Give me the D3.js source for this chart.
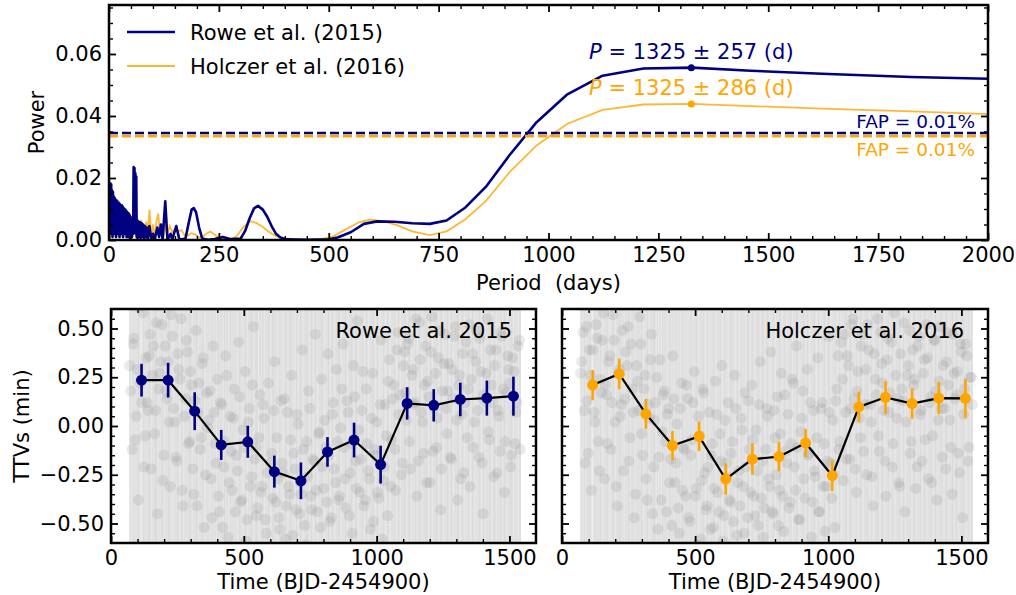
<!DOCTYPE html>
<html>
<head>
<meta charset="utf-8">
<script src="https://cdn.jsdelivr.net/npm/d3@7"></script>
<style>
  body { margin: 0; background: #fff; }
  svg { font-family: "DejaVu Sans", sans-serif; }
</style>
</head>
<body>
<svg id="fig" width="1016" height="595"></svg>
<script>
// ---- periodogram (period in days, power) ----
const roweCurve = [
  [1,0.0175],[2,0.004],[3,0.0183],[4,0.002],[5,0.018],[6,0.003],[7,0.016],[8,0.001],[9,0.0155],[10,0.004],
  [11,0.014],[12,0.002],[13,0.0135],[14,0.005],[15,0.013],[16,0.001],[17,0.0128],[18,0.004],[19,0.0125],[20,0.002],
  [21,0.012],[22,0.006],[23,0.0118],[24,0.001],[25,0.0115],[26,0.004],[27,0.011],[28,0.002],[29,0.0112],[30,0.005],
  [31,0.0108],[32,0.001],[33,0.0104],[34,0.003],[35,0.01],[36,0.002],[37,0.0098],[38,0.004],[39,0.0095],[40,0.001],
  [41,0.009],[42,0.003],[43,0.0088],[44,0.001],[45,0.0085],[46,0.002],[47,0.008],[48,0.0005],[49,0.0075],[50,0.002],
  [51,0.0065],[52,0.001],[54,0.006],[55,0.002],[56,0.0235],[57,0.004],[58,0.0232],[59,0.003],[60,0.0215],[61,0.002],
  [62,0.0205],[63,0.001],[64,0.0065],[65,0.0005],[66,0.006],[68,0.001],[70,0.0058],[72,0.0005],[74,0.0055],[76,0.001],
  [78,0.005],[80,0.0005],[82,0.0045],[84,0.001],[86,0.004],[88,0.0002],[92,0.0045],[96,0.0002],[100,0.002],[104,0.0002],
  [110,0.004],[114,0.001],[118,0.005],[122,0.0002],[128,0.0125],[133,0.0002],[140,0.002],[144,0.0002],[153,0.0045],[160,0.0002],
  [168,0.0003],[174,0.0005],[182,0.006],[188,0.0098],[193,0.0103],[198,0.009],[205,0.004],[212,0.0005],[225,0.0001],[240,0.0003],
  [259,0.001],[275,0.0003],[300,0.0005],[310,0.003],[320,0.007],[330,0.0102],[339,0.011],[350,0.0098],[360,0.0075],[370,0.0045],
  [380,0.002],[390,0.0008],[403,0.0002],[450,0.0001],[500,0.0002],[520,0.0008],[550,0.0025],[580,0.0052],[610,0.006],[650,0.0059],
  [690,0.0054],[730,0.0052],[768,0.0063],[811,0.0105],[859,0.0174],[912,0.0275],[973,0.038],[1043,0.047],[1123,0.053],[1216,0.0553],
  [1327,0.0556],[1460,0.0546],[1622,0.0536],[1825,0.0526],[2085,0.0517]
];
const holczerCurve = [
  [1,0.008],[2.5,0.001],[3.5,0.011],[4.5,0.002],[5.5,0.01],[6.5,0.001],[7.5,0.012],[8.5,0.003],[9.5,0.011],[10.5,0.001],
  [11.5,0.0125],[12.5,0.002],[13.5,0.013],[14.5,0.004],[15.5,0.0134],[16.5,0.001],[17.5,0.012],[18.5,0.003],[19.5,0.0125],[20.5,0.001],
  [21.5,0.011],[22.5,0.002],[23.5,0.0126],[24.5,0.003],[25.5,0.0105],[26.5,0.001],[27.5,0.01],[28.5,0.002],[29.5,0.0095],[31,0.001],
  [32.5,0.009],[34,0.002],[35.5,0.0095],[37,0.001],[38.5,0.0085],[40,0.002],[41.5,0.009],[43,0.001],[44.5,0.008],[46,0.002],
  [47.5,0.0085],[49,0.001],[50.5,0.0075],[52,0.002],[53.5,0.007],[55,0.001],[56.5,0.0065],[58,0.002],[60,0.007],[62,0.001],
  [64,0.0065],[66,0.002],[68,0.006],[70,0.0005],[73,0.0065],[76,0.001],[79,0.005],[82,0.001],[85,0.006],[88,0.0015],
  [92,0.0097],[96,0.001],[100,0.005],[104,0.0008],[108,0.006],[112,0.0085],[116,0.002],[120,0.004],[124,0.0008],[128,0.006],
  [132,0.0015],[138,0.0045],[144,0.0025],[150,0.0035],[158,0.0028],[165,0.0032],[172,0.0015],[180,0.0015],[187,0.0022],[196,0.0018],
  [205,0.0008],[215,0.0012],[223,0.0022],[231,0.0027],[240,0.0018],[252,0.0005],[265,0.0001],[275,0.0001],[290,0.0012],[305,0.004],
  [320,0.0061],[335,0.0055],[350,0.0042],[365,0.0025],[380,0.0012],[395,0.0006],[420,0.0002],[450,0.0001],[480,0.0002],[510,0.0012],
  [540,0.0035],[570,0.0058],[595,0.0066],[625,0.006],[655,0.0048],[690,0.0028],[730,0.0016],[768,0.0028],[811,0.0067],[859,0.0128],
  [912,0.022],[973,0.0305],[1043,0.0375],[1123,0.042],[1216,0.0437],[1327,0.0439],[1460,0.0432],[1622,0.0424],[1825,0.0415],[2085,0.0402]
];
const peakPeriod = 1325;
const peakPower = { rowe: 0.0556, holczer: 0.0439 };
const peakErr = { rowe: 257, holczer: 286 };
const fap = { rowe: 0.0345, holczer: 0.0335 };

// ---- individual transit TTVs (grey), two interleaved batches ----
const transitTimesA = [
  70,79,86,95,103,110,121,128,136,144, 151,160,168,175,184,192,199,208,216,223,
  231,240,248,255,264,271,280,288,296,303, 312,320,327,336,344,351,360,368,377,384,
  392,401,408,416,425,432,440,449,456,464, 472,481,488,497,505,512,521,529,536,545,
  552,561,569,576,585,593,600,609,616,624, 633,640,648,657,664,673,680,688,697,704,
  713,720,729,737,744,753,760,769,776,785, 793,800,809,817,824,833,840,849,857,864,
  873,881,888,897,905,912,921,928,937,945, 952,961,968,977,985,992,1001,1008,1017,1025,
  1032,1041,1048,1057,1065,1072,1081,1088,1097,1105, 1112,1121,1128,1137,1145,1152,1161,1168,1177,1185,
  1192,1201,1208,1217,1225,1232,1241,1248,1257,1265, 1272,1281,1288,1297,1305,1312,1321,1328,1337,1345,
  1352,1361,1368,1377,1385,1392,1401,1408,1417,1425, 1432,1441,1448,1457,1465,1472,1481,1488,1497,1505,
  1512,1521,1529,1538
];
const transitTimesB = [
  74,83,91,99,106,116,124,132,140,147, 156,164,171,180,188,195,204,212,219,227,
  236,244,251,260,268,276,284,292,299,308, 316,323,332,340,347,356,364,372,380,388,
  396,404,412,420,428,436,444,452,460,468, 476,484,492,501,508,517,525,532,541,548,
  557,565,572,581,589,596,605,612,620,629, 636,644,653,660,669,676,684,693,700,709,
  716,725,733,740,749,756,765,772,781,789, 796,805,813,820,829,836,845,853,860,869,
  877,884,893,901,908,917,924,933,941,948, 957,964,973,981,988,997,1004,1013,1021,1028,
  1037,1044,1053,1061,1068,1077,1084,1093,1101,1108, 1117,1124,1133,1141,1148,1157,1164,1173,1181,1188,
  1197,1204,1213,1221,1228,1237,1244,1253,1261,1268, 1277,1284,1293,1301,1308,1317,1324,1333,1341,1348,
  1357,1364,1373,1381,1388,1397,1404,1413,1421,1428, 1437,1444,1453,1461,1468,1477,1484,1493,1501,1508,
  1517,1525,1533,1541
];
const roweTtvA = [
  0.31,-0.12,0.45,0.05,-0.38,0.22,0.58,-0.05,0.12,0.36, -0.22,0.41,0.08,-0.45,0.27,0.52,-0.15,0.18,0.33,-0.31,
  0.46,0.02,-0.18,0.29,0.55,-0.41,0.14,0.38,-0.08,0.21, -0.35,0.49,0.07,-0.12,0.32,-0.52,0.17,0.03,-0.27,0.41,
  -0.09,0.24,-0.44,0.11,-0.21,0.36,-0.57,0.05,-0.33,0.19, -0.15,0.43,-0.39,-0.02,0.28,-0.48,0.09,-0.26,0.51,-0.11,
  -0.42,0.16,-0.31,0.04,-0.55,0.22,-0.19,-0.37,0.33,-0.06, -0.47,0.13,-0.24,-0.58,0.07,-0.35,0.26,-0.14,-0.43,0.01,
  -0.29,0.39,-0.51,-0.08,0.18,-0.36,-0.17,0.47,-0.44,-0.03, 0.24,-0.32,-0.11,0.37,-0.49,0.06,-0.22,0.29,-0.38,-0.01,
  0.42,-0.27,0.13,-0.46,-0.09,0.31,-0.18,0.54,-0.34,0.08, -0.41,0.19,-0.23,-0.53,0.27,-0.12,0.02,-0.37,0.44,-0.28,
  0.11,-0.46,0.34,-0.07,0.21,-0.33,0.48,0.16,-0.19,0.38, 0.03,0.45,-0.22,0.29,0.12,-0.36,0.53,0.07,-0.14,0.41,
  0.23,-0.29,0.56,0.09,-0.11,0.35,-0.43,0.18,0.47,-0.04, 0.32,-0.17,0.14,0.51,-0.38,0.26,0.06,-0.24,0.43,0.19,
  -0.31,0.37,0.02,0.49,-0.16,0.28,-0.45,0.13,0.55,-0.07, 0.21,-0.26,0.39,0.08,-0.13,0.46,-0.34,0.17,0.29,-0.21,
  0.35,-0.09,0.12,0.44
];
const roweTtvB = [
  0.18,0.42,-0.07,0.29,0.61,0.12,-0.21,0.35,0.08,0.47, 0.26,-0.04,0.53,0.19,0.33,-0.28,0.41,0.14,0.02,0.57,
  0.09,-0.16,0.37,0.24,-0.33,0.05,0.44,-0.09,0.28,-0.22, 0.13,-0.41,0.22,-0.06,0.35,-0.25,-0.01,0.18,-0.47,0.07,
  -0.19,-0.36,0.12,-0.52,-0.08,0.26,-0.29,-0.13,0.04,-0.44, -0.23,0.15,-0.38,-0.11,-0.59,0.02,-0.31,0.21,-0.17,-0.46,
  -0.06,-0.34,0.11,-0.48,-0.24,-0.62,-0.14,0.08,-0.39,-0.27, -0.53,-0.19,0.14,-0.41,-0.31,-0.07,-0.56,-0.22,0.06,-0.45,
  -0.35,-0.12,-0.61,-0.26,0.09,-0.43,-0.18,-0.33,-0.04,-0.52, -0.21,0.03,-0.39,-0.15,-0.47,0.12,-0.29,-0.08,-0.36,0.19,
  -0.11,-0.42,0.07,-0.24,-0.55,0.15,-0.32,-0.02,-0.17,0.28, -0.38,-0.09,-0.27,0.04,-0.49,-0.15,-0.34,0.11,-0.58,-0.21,
  -0.05,0.23,-0.31,0.14,-0.12,0.39,0.06,-0.25,0.31,0.17, 0.42,-0.08,0.26,0.11,0.55,-0.18,0.34,0.02,0.21,-0.29,
  0.15,0.38,-0.13,0.27,0.04,0.49,-0.22,0.32,0.09,0.18, -0.16,0.29,0.46,0.03,0.21,-0.27,0.37,0.12,-0.06,0.52,
  0.24,-0.11,0.33,0.08,0.45,-0.19,0.16,0.27,-0.03,0.39, 0.12,0.31,-0.24,0.05,0.48,0.19,-0.08,0.36,0.22,-0.15,
  0.28,0.07,0.41,-0.12
];
const holczerTtvA = [
  0.27,0.48,-0.19,0.13,0.39,-0.33,0.07,0.52,-0.08,0.24, 0.44,-0.27,0.16,0.33,-0.12,0.57,0.02,-0.41,0.29,0.11,
  -0.23,0.38,0.51,-0.06,0.19,-0.47,0.31,0.08,0.42,-0.15, 0.26,-0.38,0.04,0.47,-0.21,0.12,-0.53,0.34,-0.03,0.18,
  -0.44,0.09,-0.17,0.36,-0.29,0.01,-0.55,0.22,-0.11,-0.36, 0.14,-0.49,-0.07,0.28,-0.32,0.05,-0.58,0.19,-0.24,-0.41,
  0.07,-0.15,-0.52,0.23,-0.34,-0.04,0.31,-0.46,-0.19,0.12, -0.39,-0.08,0.26,-0.56,-0.23,0.04,-0.31,0.17,-0.47,-0.12,
  0.21,-0.36,-0.02,-0.51,0.33,-0.18,-0.42,0.09,-0.27,0.38, -0.45,-0.06,0.15,-0.33,0.27,-0.54,-0.13,0.06,-0.39,0.24,
  -0.21,0.41,-0.48,-0.03,0.18,-0.37,0.29,-0.14,-0.57,0.08, -0.26,0.35,-0.44,0.12,-0.09,-0.31,0.46,-0.19,0.03,-0.52,
  0.19,-0.12,0.43,-0.28,0.07,0.36,-0.17,0.52,0.14,-0.34, 0.28,-0.06,0.47,0.11,-0.25,0.39,0.02,-0.41,0.24,0.55,
  -0.13,0.32,0.08,-0.36,0.45,0.17,-0.21,0.58,0.04,-0.29, 0.37,0.13,-0.44,0.26,0.49,-0.08,0.21,-0.32,0.41,0.06,
  -0.18,0.34,0.52,-0.27,0.15,-0.05,0.44,-0.38,0.23,0.09, 0.31,-0.22,0.48,0.03,-0.35,0.27,0.16,-0.14,0.42,-0.47,
  0.19,0.36,-0.11,0.25
];
const holczerTtvB = [
  0.33,0.08,0.51,-0.14,0.26,0.39,0.02,0.45,-0.23,0.17, 0.58,0.21,-0.09,0.36,0.12,0.44,-0.31,0.27,0.05,0.49,
  0.14,0.31,-0.18,0.42,0.07,-0.35,0.23,0.56,-0.04,0.19, -0.27,0.11,0.34,-0.45,0.03,0.25,-0.16,-0.38,0.16,-0.08,
  0.06,-0.29,-0.51,0.14,-0.19,-0.42,0.09,-0.33,-0.12,0.21, -0.47,-0.15,0.12,-0.36,-0.61,-0.05,-0.28,0.17,-0.43,-0.21,
  -0.53,-0.09,-0.32,0.06,-0.44,-0.18,-0.59,0.03,-0.26,-0.38, -0.14,-0.49,0.09,-0.29,-0.41,-0.02,-0.55,-0.21,0.13,-0.34,
  -0.07,-0.46,-0.23,0.11,-0.37,-0.57,-0.12,0.05,-0.31,-0.44, 0.08,-0.25,-0.51,-0.04,-0.36,0.16,-0.19,-0.42,-0.09,0.22,
  -0.33,-0.11,-0.48,0.04,-0.27,-0.62,-0.15,0.12,-0.39,-0.23, -0.06,-0.44,0.09,-0.31,-0.54,-0.18,0.07,-0.37,-0.25,0.13,
  0.36,-0.08,0.24,0.47,-0.17,0.31,0.09,0.55,-0.22,0.18, 0.04,0.41,-0.13,0.29,0.52,0.11,-0.26,0.37,0.16,-0.05,
  0.48,0.22,-0.18,0.34,0.07,0.43,-0.09,0.26,0.14,-0.31, 0.19,0.53,0.02,0.31,-0.14,0.39,0.24,-0.21,0.46,0.08,
  0.27,-0.07,0.35,0.12,-0.29,0.44,0.18,0.03,0.51,-0.16, 0.09,0.33,0.21,-0.11,0.47,0.14,0.28,-0.24,0.38,0.06,
  0.42,-0.18,0.25,0.11
];
const grayErr = 1.3; // individual errors are larger than the y-range

// ---- binned TTVs ----
const binTimes = [115,215,315,415,515,615,715,815,915,1015,1115,1215,1315,1415,1515];
const roweBin = [0.235,0.235,0.076,-0.097,-0.081,-0.234,-0.281,-0.133,-0.072,-0.198,0.116,0.106,0.136,0.143,0.153];
const roweBinErr = [0.084,0.089,0.097,0.077,0.082,0.082,0.094,0.076,0.089,0.097,0.083,0.083,0.086,0.09,0.1];
const holczerBin = [0.21,0.267,0.062,-0.1,-0.053,-0.272,-0.17,-0.157,-0.087,-0.255,0.098,0.147,0.115,0.143,0.142];
const holczerBinErr = [0.077,0.078,0.077,0.075,0.076,0.081,0.08,0.075,0.072,0.079,0.078,0.083,0.078,0.083,0.1];

const NAVY = "#000080", ORANGE = "#ffa500";
const FONT = "DejaVu Sans, sans-serif";
const svg = d3.select("#fig");

// draws the box, inward ticks on all four sides, and tick labels
function frame(g, x, y, o) {
  const [x0, x1] = x.range();
  const [y0, y1] = y.range();
  const put = (axis, tr, vals, size, fmt) => {
    const a = g.append("g").attr("transform", tr)
      .call(axis.tickValues(vals).tickSize(-size).tickPadding(7)
        .tickFormat(fmt || (() => "")));
    a.attr("font-size", 21).attr("font-family", FONT);
    a.select(".domain").remove();
    a.selectAll("line").attr("stroke", "#000").attr("stroke-width", size > 5 ? 1.8 : 1.4);
    a.selectAll("text").attr("fill", "#000");
  };
  put(d3.axisBottom(x), `translate(0,${y0})`, o.xMajor, 7, o.xFmt);
  put(d3.axisBottom(x), `translate(0,${y0})`, o.xMinor, 4);
  put(d3.axisTop(x), `translate(0,${y1})`, o.xMajor, 7);
  put(d3.axisTop(x), `translate(0,${y1})`, o.xMinor, 4);
  put(d3.axisLeft(y), `translate(${x0},0)`, o.yMajor, 7, o.yFmt);
  put(d3.axisLeft(y), `translate(${x0},0)`, o.yMinor, 4);
  put(d3.axisRight(y), `translate(${x1},0)`, o.yMajor, 7);
  put(d3.axisRight(y), `translate(${x1},0)`, o.yMinor, 4);
  g.append("rect")
    .attr("x", x0).attr("y", y1).attr("width", x1 - x0).attr("height", y0 - y1)
    .attr("fill", "none").attr("stroke", "#000").attr("stroke-width", 2.5);
}

function clip(id, x, y) {
  const [x0, x1] = x.range(), [y0, y1] = y.range();
  svg.append("clipPath").attr("id", id).append("rect")
    .attr("x", x0).attr("y", y1).attr("width", x1 - x0).attr("height", y0 - y1);
  return `url(#${id})`;
}

// ================= top: periodogram =================
const xP = d3.scaleLinear([0, 2000], [109, 988]);
const yP = d3.scaleLinear([0, 0.0758], [240, 5]);
const topG = svg.append("g");
const topData = topG.append("g").attr("clip-path", clip("clipP", xP, yP));

const line = d3.line().x(d => xP(d[0])).y(d => yP(d[1]));
topData.append("path").datum(holczerCurve).attr("d", line)
  .attr("fill", "none").attr("stroke", ORANGE).attr("stroke-opacity", 0.8).attr("stroke-width", 1.8);
topData.append("path").datum(roweCurve).attr("d", line)
  .attr("fill", "none").attr("stroke", NAVY).attr("stroke-width", 2.6).attr("stroke-linejoin", "round");

[["holczer", ORANGE], ["rowe", NAVY]].forEach(([k, c]) => {
  topData.append("line")
    .attr("x1", xP(0)).attr("x2", xP(2000))
    .attr("y1", yP(fap[k])).attr("y2", yP(fap[k]))
    .attr("stroke", c).attr("stroke-width", 2.6).attr("stroke-dasharray", "9,4");
});

// peak markers + labels
[["rowe", NAVY], ["holczer", ORANGE]].forEach(([k, c]) => {
  topG.append("circle").attr("cx", xP(peakPeriod)).attr("cy", yP(peakPower[k]))
    .attr("r", 3.5).attr("fill", c);
  const t = topG.append("text")
    .attr("x", xP(peakPeriod)).attr("y", yP(peakPower[k]) - 9)
    .attr("text-anchor", "middle").attr("font-size", 21).attr("fill", c);
  t.append("tspan").attr("font-style", "italic").text("P");
  t.append("tspan").text(` = ${peakPeriod} ± ${peakErr[k]} (d)`);
});

topG.append("text").attr("x", 975).attr("y", yP(fap.rowe) - 5)
  .attr("text-anchor", "end").attr("font-size", 18.5).attr("fill", NAVY).text("FAP = 0.01%");
topG.append("text").attr("x", 975).attr("y", yP(fap.holczer) + 20)
  .attr("text-anchor", "end").attr("font-size", 18.5).attr("fill", ORANGE).text("FAP = 0.01%");

frame(topG, xP, yP, {
  xMajor: d3.range(0, 2001, 250),
  xMinor: d3.range(0, 2001, 50).filter(v => v % 250 !== 0),
  xFmt: d3.format("d"),
  yMajor: [0, 0.02, 0.04, 0.06],
  yMinor: d3.range(1, 16).map(i => i * 0.005).filter((v, i) => (i + 1) % 4 !== 0),
  yFmt: d3.format(".2f")
});

// legend
const legend = [["Rowe et al. (2015)", NAVY, 2.6], ["Holczer et al. (2016)", ORANGE, 1.8]];
legend.forEach(([name, c, w], i) => {
  const ly = 32 + i * 34;
  topG.append("line").attr("x1", 127).attr("x2", 175).attr("y1", ly).attr("y2", ly)
    .attr("stroke", c).attr("stroke-width", w).attr("stroke-opacity", i ? 0.8 : 1);
  topG.append("text").attr("x", 190).attr("y", ly + 7.5)
    .attr("font-size", 21).attr("fill", "#000").text(name);
});

topG.append("text").attr("transform", `translate(44,${(5 + 240) / 2}) rotate(-90)`)
  .attr("text-anchor", "middle").attr("font-size", 21).text("Power");
topG.append("text").attr("x", (109 + 988) / 2).attr("y", 290)
  .attr("text-anchor", "middle").attr("font-size", 21).attr("xml:space", "preserve").text("Period  (days)");

// ================= bottom: TTVs =================
const yT = d3.scaleLinear([-0.6, 0.6], [543, 309]);
const panels = [
  { id: "L", x: d3.scaleLinear([0, 1600], [111, 536]), ttvA: roweTtvA, ttvB: roweTtvB,
    bin: roweBin, err: roweBinErr, color: NAVY, label: "Rowe et al. 2015", yLabels: true },
  { id: "R", x: d3.scaleLinear([0, 1600], [562, 988]), ttvA: holczerTtvA, ttvB: holczerTtvB,
    bin: holczerBin, err: holczerBinErr, color: ORANGE, label: "Holczer et al. 2016", yLabels: false }
];

panels.forEach(p => {
  const g = svg.append("g");
  const data = g.append("g").attr("clip-path", clip("clip" + p.id, p.x, yT));
  const pts = transitTimesA.map((t, i) => [t, p.ttvA[i]])
    .concat(transitTimesB.map((t, i) => [t, p.ttvB[i]]));

  data.append("g").selectAll("line").data(pts).join("line")
    .attr("x1", d => p.x(d[0])).attr("x2", d => p.x(d[0]))
    .attr("y1", d => yT(d[1] - grayErr)).attr("y2", d => yT(d[1] + grayErr))
    .attr("stroke", "#a8a8a8").attr("stroke-opacity", 0.3).attr("stroke-width", 1.3);
  data.append("g").selectAll("circle").data(pts).join("circle")
    .attr("cx", d => p.x(d[0])).attr("cy", d => yT(d[1]))
    .attr("r", 5.5).attr("fill", "#808080").attr("fill-opacity", 0.17);

  const bins = binTimes.map((t, i) => ({ t, v: p.bin[i], e: p.err[i] }));
  data.append("path").datum(bins)
    .attr("d", d3.line().x(d => p.x(d.t)).y(d => yT(d.v)))
    .attr("fill", "none").attr("stroke", "#000").attr("stroke-width", 2.2);
  data.append("g").selectAll("line").data(bins).join("line")
    .attr("x1", d => p.x(d.t)).attr("x2", d => p.x(d.t))
    .attr("y1", d => yT(d.v - d.e)).attr("y2", d => yT(d.v + d.e))
    .attr("stroke", p.color).attr("stroke-width", 2.6);
  data.append("g").selectAll("circle").data(bins).join("circle")
    .attr("cx", d => p.x(d.t)).attr("cy", d => yT(d.v))
    .attr("r", 5.5).attr("fill", p.color);

  frame(g, p.x, yT, {
    xMajor: [0, 500, 1000, 1500],
    xMinor: d3.range(100, 1600, 100).filter(v => v % 500 !== 0),
    xFmt: d3.format("d"),
    yMajor: [-0.5, -0.25, 0, 0.25, 0.5],
    yMinor: d3.range(-11, 12).map(i => i * 0.05).filter(v => Math.abs(Math.round(v * 100)) % 25 !== 0),
    yFmt: p.yLabels ? d3.format(".2f") : null
  });

  g.append("text").attr("x", p.x.range()[1] - 24).attr("y", 338)
    .attr("text-anchor", "end").attr("font-size", 21).text(p.label);
  g.append("text").attr("x", d3.mean(p.x.range())).attr("y", 589)
    .attr("text-anchor", "middle").attr("font-size", 21).text("Time (BJD-2454900)");
});

svg.append("text").attr("transform", `translate(29,${(309 + 543) / 2}) rotate(-90)`)
  .attr("text-anchor", "middle").attr("font-size", 21).text("TTVs (min)");
</script>
</body>
</html>
